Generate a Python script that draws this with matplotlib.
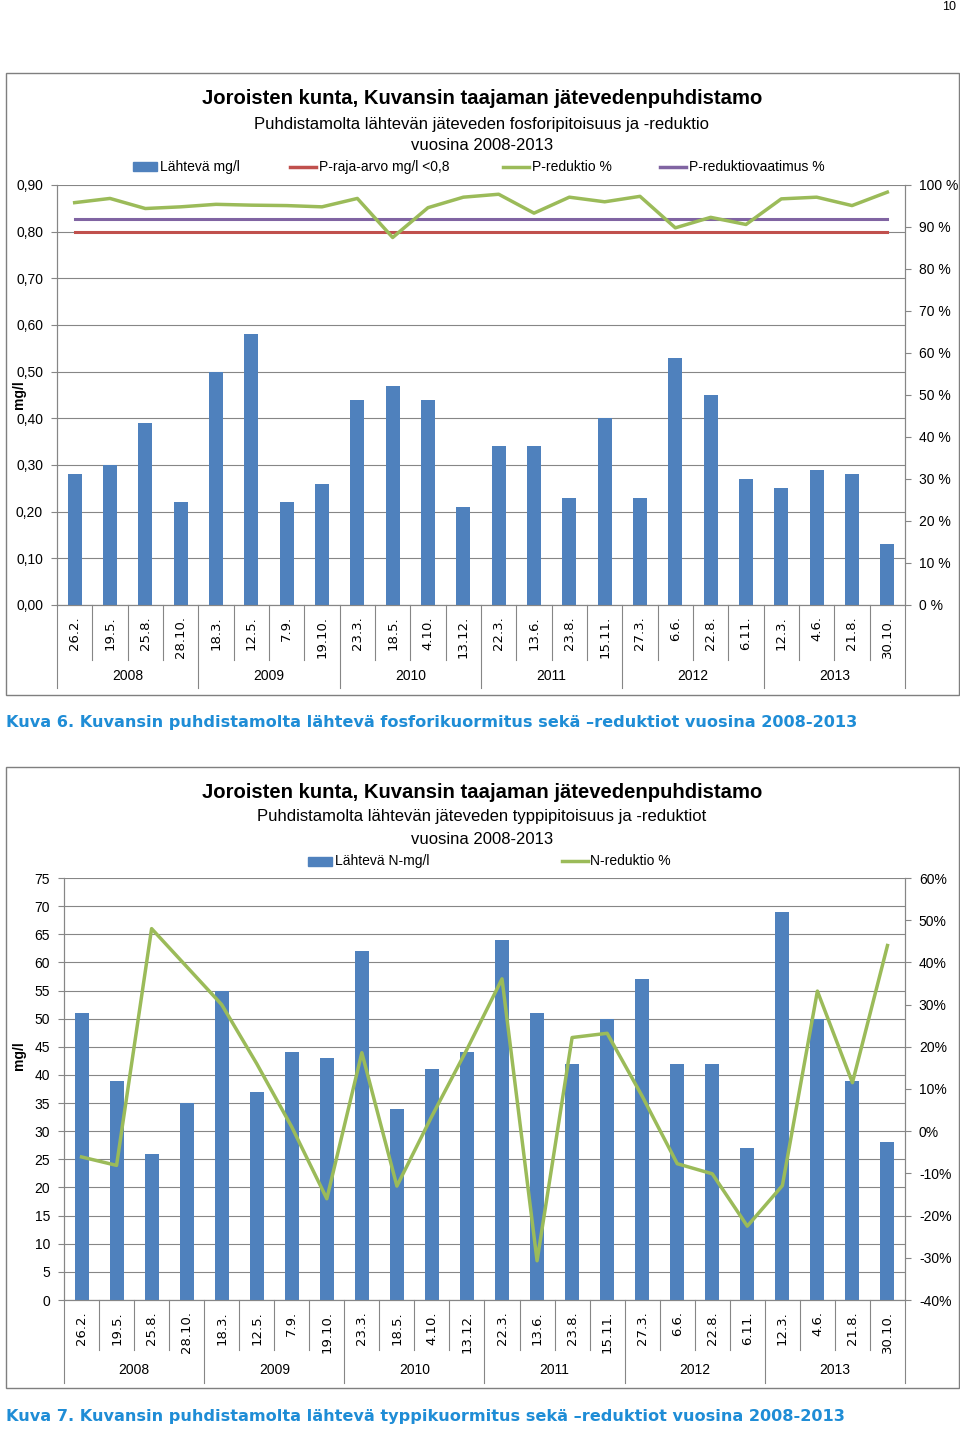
import numpy as np
import matplotlib
matplotlib.use("Agg")
import matplotlib.pyplot as plt
from matplotlib.transforms import blended_transform_factory
from matplotlib.patches import Rectangle
from matplotlib.lines import Line2D

plt.rcParams['font.family'] = ['Liberation Sans', 'DejaVu Sans']

# ---------------- data ----------------
dates = ['26.2.', '19.5.', '25.8.', '28.10.', '18.3.', '12.5.', '7.9.', '19.10.',
         '23.3.', '18.5.', '4.10.', '13.12.', '22.3.', '13.6.', '23.8.', '15.11.',
         '27.3.', '6.6.', '22.8.', '6.11.', '12.3.', '4.6.', '21.8.', '30.10.']
years = ['2008', '2009', '2010', '2011', '2012', '2013']

# Kuva 6 - phosphorus
p_out = [0.28, 0.30, 0.39, 0.22, 0.50, 0.58, 0.22, 0.26, 0.44, 0.47, 0.44, 0.21,
         0.34, 0.34, 0.23, 0.40, 0.23, 0.53, 0.45, 0.27, 0.25, 0.29, 0.28, 0.13]
p_limit = [0.80] * 24
p_reduction = [95.8, 96.8, 94.4, 94.8, 95.4, 95.2, 95.1, 94.8, 96.8, 87.5, 94.6, 97.1,
               97.8, 93.3, 97.1, 96.0, 97.3, 89.8, 92.3, 90.6, 96.7, 97.1, 95.1, 98.3]
p_requirement = [92.0] * 24

# Kuva 7 - nitrogen
n_out = [51, 39, 26, 35, 55, 37, 44, 43, 62, 34, 41, 44,
         64, 51, 42, 50, 57, 42, 42, 27, 69, 50, 39, 28]
n_reduction = [-6.1, -8.1, 48.0, 39.0, 30.0, 16.0, 1.0, -16.0, 18.6, -13.0, 3.6, 19.4,
               36.1, -30.7, 22.2, 23.2, 8.3, -7.7, -10.1, -22.5, -12.9, 33.2, 11.5, 44.0]

# ---------------- styling ----------------
W, H = 960, 1434
BLUE = '#4F81BD'
RED = '#C0504D'
GREEN = '#9BBB59'
PURPLE = '#8064A2'
GRID = '#868686'
CAPTION = '#1F8DD6'

fig = plt.figure(figsize=(W / 100, H / 100), dpi=100)


def fx(px):
    return px / W


def fy(py):
    return 1 - py / H


# outer frames
for (x0, y0, x1, y1) in [(6, 73, 959, 695), (6, 767, 959, 1388)]:
    fig.patches.append(Rectangle((fx(x0), fy(y1)), fx(x1 - x0), (y1 - y0) / H,
                                 transform=fig.transFigure, fill=False,
                                 edgecolor='#7f7f7f', lw=1.0))

fig.text(fx(956), fy(7), '10', ha='right', va='center', fontsize=9)


def category_axis(ax, minor_len, major_len, year_pos):
    trans = blended_transform_factory(ax.transData, ax.transAxes)
    x = np.arange(len(dates))
    ax.set_xticks(x)
    ax.set_xticklabels(dates, rotation=90, va='top', ha='center',
                       fontsize=9.5, family=['DejaVu Sans'])
    ax.tick_params(axis='x', length=0, pad=8)
    for i in range(len(dates) + 1):
        ln = major_len if i % 4 == 0 else minor_len
        ax.plot([i - 0.5, i - 0.5], [0, -ln], transform=trans, clip_on=False,
                color=GRID, lw=0.8)
    for j, yr in enumerate(years):
        ax.text(4 * j + 1.5, -year_pos, yr, transform=trans, ha='center',
                va='center', fontsize=10)


def style_axes(ax, axr):
    for a in (ax, axr):
        for s in a.spines.values():
            s.set_color(GRID)
            s.set_linewidth(0.8)
        a.spines['top'].set_visible(False)
    ax.tick_params(axis='y', direction='out', length=4, color=GRID, labelsize=10, pad=6)
    axr.tick_params(axis='y', direction='out', length=4, color=GRID, labelsize=10, pad=6)
    ax.grid(axis='y', color=GRID, lw=0.8, zorder=0)
    ax.set_axisbelow(True)


# ================= Kuva 6 =================
ax1 = fig.add_axes([fx(57), fy(605), fx(848), 420 / H])
x = np.arange(len(dates))
ax1.bar(x, p_out, width=0.4, color=BLUE, zorder=3)
ax1.plot(x, p_limit, color=RED, lw=2.2, zorder=4)
ax1.set_xlim(-0.5, 23.5)
ax1.set_ylim(0, 0.9)
yt = np.round(np.arange(0, 0.91, 0.1), 2)
ax1.set_yticks(yt)
ax1.set_yticklabels([f"{v:.2f}".replace('.', ',') for v in yt])
ax1.set_ylabel('mg/l', fontsize=10, fontweight='bold')
ax1.yaxis.set_label_coords(-0.0366, 0.5)

ax1r = ax1.twinx()
ax1r.plot(x, p_requirement, color=PURPLE, lw=2.2)
ax1r.plot(x, p_reduction, color=GREEN, lw=2.5)
ax1r.set_ylim(0, 100)
ax1r.set_yticks(np.arange(0, 101, 10))
ax1r.set_yticklabels([f"{v} %" for v in range(0, 101, 10)])
style_axes(ax1, ax1r)
category_axis(ax1, 0.131, 0.198, 0.169)

fig.text(fx(482), fy(99), 'Joroisten kunta, Kuvansin taajaman jätevedenpuhdistamo',
         ha='center', va='center', fontsize=14.6, fontweight='bold')
fig.text(fx(482), fy(124), 'Puhdistamolta lähtevän jäteveden fosforipitoisuus ja -reduktio',
         ha='center', va='center', fontsize=12)
fig.text(fx(482), fy(146), 'vuosina 2008-2013', ha='center', va='center', fontsize=12)

# legend (top)
ly = fy(167)
fig.patches.append(Rectangle((fx(133), ly - 4.5 / H), fx(24), 9 / H,
                             transform=fig.transFigure, color=BLUE))
fig.text(fx(160), ly, 'Lähtevä mg/l', va='center', fontsize=10)
for x0, col, lab in [(290, RED, 'P-raja-arvo mg/l <0,8'),
                     (503, GREEN, 'P-reduktio %'),
                     (660, PURPLE, 'P-reduktiovaatimus %')]:
    fig.lines.append(Line2D([fx(x0), fx(x0 + 26)], [ly, ly], transform=fig.transFigure,
                            color=col, lw=2.5))
    fig.text(fx(x0 + 29), ly, lab, va='center', fontsize=10)

fig.text(fx(6), fy(723),
         'Kuva 6. Kuvansin puhdistamolta lähtevä fosforikuormitus sekä –reduktiot vuosina 2008-2013',
         color=CAPTION, fontweight='bold', fontsize=11.6, va='center',
         family=['DejaVu Sans'])

# ================= Kuva 7 =================
ax2 = fig.add_axes([fx(64), fy(1300), fx(841), 422 / H])
ax2.bar(x, n_out, width=0.4, color=BLUE, zorder=3)
ax2.set_xlim(-0.5, 23.5)
ax2.set_ylim(0, 75)
ax2.set_yticks(np.arange(0, 76, 5))
ax2.set_ylabel('mg/l', fontsize=10, fontweight='bold')
ax2.yaxis.set_label_coords(-0.045, 0.58)

ax2r = ax2.twinx()
ax2r.plot(x, n_reduction, color=GREEN, lw=2.5)
ax2r.set_ylim(-40, 60)
ax2r.set_yticks(np.arange(-40, 61, 10))
ax2r.set_yticklabels([f"{v}%" for v in range(-40, 61, 10)])
style_axes(ax2, ax2r)
category_axis(ax2, 0.118, 0.197, 0.166)

fig.text(fx(482), fy(793), 'Joroisten kunta, Kuvansin taajaman jätevedenpuhdistamo',
         ha='center', va='center', fontsize=14.6, fontweight='bold')
fig.text(fx(482), fy(817), 'Puhdistamolta lähtevän jäteveden typpipitoisuus ja -reduktiot',
         ha='center', va='center', fontsize=12)
fig.text(fx(482), fy(840), 'vuosina 2008-2013', ha='center', va='center', fontsize=12)

ly = fy(861)
fig.patches.append(Rectangle((fx(308), ly - 4.5 / H), fx(24), 9 / H,
                             transform=fig.transFigure, color=BLUE))
fig.text(fx(335), ly, 'Lähtevä N-mg/l', va='center', fontsize=10)
fig.lines.append(Line2D([fx(562), fx(588)], [ly, ly], transform=fig.transFigure,
                        color=GREEN, lw=2.5))
fig.text(fx(590), ly, 'N-reduktio %', va='center', fontsize=10)

fig.text(fx(6), fy(1417),
         'Kuva 7. Kuvansin puhdistamolta lähtevä typpikuormitus sekä –reduktiot vuosina 2008-2013',
         color=CAPTION, fontweight='bold', fontsize=11.6, va='center',
         family=['DejaVu Sans'])

fig.savefig('out.png', dpi=100)
